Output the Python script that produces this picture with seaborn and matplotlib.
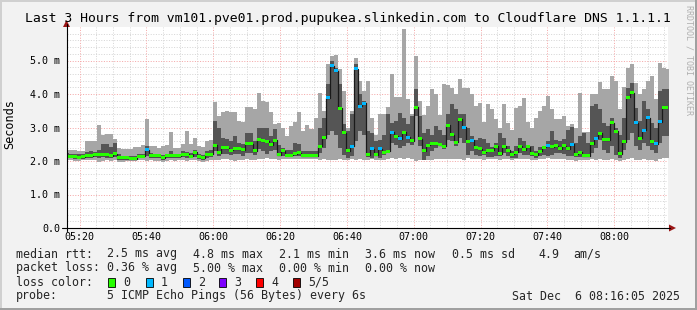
import numpy as np
import matplotlib
matplotlib.use("Agg")
import matplotlib.pyplot as plt
import seaborn as sns
from matplotlib.lines import Line2D
from matplotlib.patches import Polygon, Rectangle

sns.set_style("white")
plt.rcParams['font.family'] = ['DejaVu Sans Mono', 'DejaVu Sans']

# ---------------- data (ms), one value per 72 s consolidation step ----------------
START_MIN = 15.6          # first step starts 05:15:36 (minutes after 05:00)
STEP_MIN = 1.2            # 72 s steps
X_FROM, X_TO = 16.0833, 196.0833   # 05:16:05 .. 08:16:05

MED = [
    2.14, 2.14, 2.14, 2.11, 2.12, 2.16, 2.16, 2.19, 2.19, 2.19,
    2.19, 2.16, 2.22, 2.09, 2.09, 2.09, 2.07, 2.07, 2.14, 2.14,
    2.33, 2.15, 2.15, 2.15, 2.09, 2.15, 2.15, 2.15, 2.15, 2.20,
    2.20, 2.14, 2.26, 2.14, 2.09, 2.20, 2.20, 2.47, 2.24, 2.40,
    2.40, 2.32, 2.37, 2.37, 2.34, 2.52, 2.52, 2.30, 2.65, 2.60,
    2.59, 2.49, 2.62, 2.19, 2.31, 2.17, 2.17, 2.22, 2.25, 2.16,
    2.16, 2.16, 2.16, 2.44, 2.69, 3.89, 4.84, 4.69, 3.57, 2.84,
    2.31, 2.44, 4.76, 3.64, 3.73, 2.19, 2.36, 2.19, 2.36, 2.26,
    2.29, 2.86, 2.74, 2.67, 2.86, 2.71, 2.61, 3.61, 2.67, 2.31,
    2.47, 2.51, 2.51, 2.49, 2.44, 3.07, 2.79, 2.56, 3.24, 3.01,
    2.59, 2.62, 2.39, 2.36, 2.26, 2.32, 2.32, 2.44, 2.21, 2.44,
    2.32, 2.20, 2.26, 2.44, 2.34, 2.42, 2.22, 2.19, 2.29, 2.41,
    2.46, 2.42, 2.46, 2.36, 2.46, 2.36, 2.50, 2.20, 2.26, 2.16,
    2.16, 2.52, 2.68, 2.83, 2.63, 2.63, 3.14, 2.89, 2.22, 2.57,
    3.91, 4.04, 3.14, 2.68, 2.92, 3.29, 2.58, 2.52, 3.17, 3.59,
    3.59]

LOSS = [
    0, 0, 0, 0, 0, 0, 0, 0, 0, 0,
    0, 0, 0, 0, 0, 0, 0, 0, 0, 0,
    1, 0, 0, 0, 0, 0, 0, 0, 0, 0,
    0, 0, 0, 0, 0, 0, 0, 0, 0, 0,
    0, 0, 0, 0, 0, 0, 0, 0, 0, 0,
    0, 0, 0, 0, 0, 0, 0, 0, 0, 0,
    0, 0, 0, 0, 0, 1, 1, 1, 0, 0,
    0, 1, 1, 1, 1, 0, 1, 0, 1, 0,
    0, 1, 0, 1, 0, 1, 0, 0, 0, 0,
    0, 0, 0, 0, 0, 0, 0, 0, 0, 1,
    0, 1, 0, 0, 0, 0, 0, 0, 0, 0,
    0, 0, 0, 0, 0, 0, 0, 0, 0, 0,
    1, 0, 0, 0, 0, 0, 1, 0, 0, 0,
    0, 0, 1, 0, 0, 0, 0, 0, 0, 0,
    0, 0, 1, 0, 1, 1, 0, 1, 1, 0,
    0]

HI = [
    2.34, 2.34, 2.34, 2.30, 2.30, 2.59, 2.59, 2.59, 3.08, 2.79,
    2.80, 2.80, 2.65, 2.40, 2.35, 2.35, 2.35, 2.43, 2.43, 2.47,
    3.24, 2.45, 2.45, 2.40, 2.45, 2.48, 2.88, 2.40, 2.38, 2.50,
    2.90, 2.50, 2.70, 2.46, 2.42, 2.60, 2.62, 3.76, 3.33, 3.45,
    3.50, 3.45, 3.45, 3.20, 3.15, 3.60, 3.62, 3.55, 4.02, 3.80,
    3.76, 3.47, 3.10, 3.13, 2.99, 2.74, 3.05, 3.17, 3.47, 2.89,
    3.07, 2.97, 3.29, 4.02, 3.50, 4.91, 5.14, 5.16, 4.76, 4.09,
    2.99, 3.50, 5.06, 4.39, 4.09, 4.39, 3.27, 2.79, 3.41, 3.41,
    3.60, 4.60, 3.90, 3.90, 5.95, 3.84, 3.40, 5.12, 3.79, 3.37,
    3.64, 4.14, 3.99, 3.37, 4.29, 4.26, 4.19, 3.99, 4.44, 4.19,
    4.19, 3.99, 3.64, 3.74, 3.17, 3.69, 3.54, 3.24, 3.00, 3.69,
    3.14, 2.94, 3.59, 3.64, 3.89, 3.17, 2.99, 3.29, 3.49, 3.64,
    3.94, 3.54, 3.24, 3.24, 3.34, 3.04, 3.10, 3.00, 4.04, 2.86,
    2.86, 3.99, 3.99, 4.36, 4.14, 4.14, 4.54, 4.38, 3.54, 4.20,
    4.79, 4.89, 4.34, 3.99, 4.14, 4.39, 4.54, 3.84, 4.92, 4.79,
    4.74]

LO = [
    2.02, 2.04, 2.00, 2.00, 2.02, 2.04, 2.02, 2.04, 1.98, 2.00,
    2.02, 2.00, 2.02, 1.98, 1.98, 2.00, 1.99, 2.00, 2.02, 2.02,
    2.00, 2.02, 1.99, 2.00, 1.98, 2.00, 2.02, 2.00, 2.02, 2.02,
    2.00, 2.02, 2.04, 2.00, 1.98, 2.00, 2.04, 2.04, 2.02, 2.06,
    2.06, 2.02, 2.00, 2.04, 2.04, 2.06, 2.04, 2.02, 2.06, 2.06,
    2.09, 2.06, 2.06, 2.04, 2.06, 2.07, 2.05, 2.05, 2.06, 2.07,
    2.07, 2.06, 2.07, 2.04, 2.06, 2.04, 2.04, 2.02, 2.06, 2.02,
    2.02, 2.06, 2.04, 2.06, 2.04, 2.04, 2.05, 2.02, 2.04, 2.04,
    2.07, 2.09, 2.07, 2.09, 2.07, 2.09, 2.07, 2.00, 2.02, 2.02,
    2.04, 2.04, 2.07, 2.06, 2.07, 2.06, 2.07, 2.05, 2.06, 2.04,
    2.09, 2.07, 2.05, 2.05, 2.04, 2.06, 2.05, 2.07, 2.04, 2.06,
    2.07, 2.04, 2.07, 2.06, 2.07, 2.06, 2.04, 2.04, 2.06, 2.07,
    2.09, 2.07, 2.06, 2.05, 2.05, 2.02, 2.02, 2.00, 2.02, 2.02,
    2.02, 2.06, 2.04, 2.07, 2.04, 2.04, 2.06, 2.04, 1.99, 2.02,
    2.06, 2.09, 2.02, 2.04, 2.06, 2.04, 2.02, 1.99, 2.06, 2.10,
    2.10]

P4 = [
    2.24, 2.22, 2.20, 2.20, 2.22, 2.26, 2.30, 2.28, 2.34, 2.50,
    2.50, 2.42, 2.54, 2.20, 2.16, 2.16, 2.14, 2.16, 2.20, 2.20,
    2.44, 2.24, 2.20, 2.20, 2.18, 2.22, 2.30, 2.22, 2.22, 2.30,
    2.28, 2.24, 2.34, 2.22, 2.18, 2.30, 2.32, 3.20, 3.00, 2.70,
    2.65, 2.60, 2.75, 2.55, 2.50, 2.85, 2.85, 2.60, 3.00, 3.00,
    3.00, 2.74, 2.97, 2.49, 2.39, 2.34, 2.34, 2.54, 2.51, 2.29,
    2.29, 2.29, 2.29, 2.99, 3.29, 4.29, 4.99, 4.79, 4.29, 3.09,
    2.89, 3.39, 4.89, 3.99, 3.79, 2.90, 2.84, 2.60, 2.64, 2.79,
    3.41, 3.14, 3.19, 3.44, 3.27, 3.09, 3.34, 4.14, 3.34, 2.84,
    2.96, 2.79, 3.04, 2.94, 2.79, 3.39, 3.69, 3.54, 3.39, 3.39,
    2.99, 2.74, 2.64, 2.69, 2.66, 2.54, 2.42, 2.55, 2.85, 2.69,
    2.44, 2.29, 2.44, 2.69, 2.59, 2.49, 2.44, 2.29, 2.42, 2.46,
    2.59, 2.89, 2.64, 2.59, 2.66, 2.94, 3.02, 2.54, 2.74, 2.84,
    2.54, 3.64, 3.69, 3.54, 3.14, 3.04, 3.29, 2.99, 2.79, 3.29,
    4.19, 4.34, 3.59, 3.19, 3.79, 3.54, 3.14, 2.99, 4.09, 4.14,
    4.14]

P2 = [
    2.08, 2.08, 2.06, 2.05, 2.07, 2.10, 2.10, 2.12, 2.10, 2.12,
    2.10, 2.08, 2.12, 2.04, 2.03, 2.04, 2.02, 2.03, 2.08, 2.08,
    2.16, 2.10, 2.08, 2.08, 2.04, 2.08, 2.10, 2.08, 2.10, 2.12,
    2.10, 2.08, 2.12, 2.06, 2.04, 2.10, 2.12, 2.30, 2.15, 2.20,
    2.22, 2.18, 2.20, 2.20, 2.15, 2.25, 2.25, 2.18, 2.35, 2.30,
    2.20, 2.29, 2.34, 2.14, 2.14, 2.14, 2.14, 2.14, 2.16, 2.11,
    2.11, 2.11, 2.11, 2.24, 2.39, 2.79, 2.89, 2.79, 2.39, 2.19,
    2.09, 2.14, 2.59, 2.89, 2.79, 2.12, 2.10, 2.14, 2.10, 2.19,
    2.24, 2.54, 2.49, 2.40, 2.44, 2.54, 2.49, 3.34, 2.44, 2.04,
    2.14, 2.29, 2.39, 2.44, 2.35, 2.64, 2.60, 2.45, 2.69, 2.54,
    2.19, 2.29, 2.19, 2.14, 2.19, 2.12, 2.12, 2.14, 2.14, 2.24,
    2.14, 2.09, 2.09, 2.24, 2.19, 2.19, 2.14, 2.09, 2.14, 2.19,
    2.14, 2.19, 2.24, 2.24, 2.22, 2.14, 2.16, 2.12, 2.12, 2.12,
    2.14, 2.24, 2.39, 2.64, 2.34, 2.24, 2.44, 2.19, 2.09, 2.34,
    2.64, 2.84, 2.44, 2.34, 2.54, 2.44, 2.34, 2.24, 2.54, 2.74,
    2.74]

X_TICKS = [20, 40, 60, 80, 100, 120, 140, 160, 180]
X_TICK_LABELS = ["05:20", "05:40", "06:00", "06:20", "06:40",
                 "07:00", "07:20", "07:40", "08:00"]
Y_TICKS = [0, 1, 2, 3, 4, 5]
Y_TICK_LABELS = ["0.0", "1.0 m", "2.0 m", "3.0 m", "4.0 m", "5.0 m"]

LOSS_LABELS = ["0", "1", "2", "3", "4", "5/5"]
LOSS_COLORS = ["#26ff00", "#00b8ff", "#0059ff", "#7e00ff", "#ff0000", "#a10000"]

TITLE = "Last 3 Hours from vm101.pve01.prod.pupukea.slinkedin.com to Cloudflare DNS 1.1.1.1"
STATS = [
    ("median rtt:", ["2.5 ms avg", "4.8 ms max", "2.1 ms min", "3.6 ms now", "0.5 ms sd", "4.9", "am/s"]),
    ("packet loss:", ["0.36 % avg", "5.00 % max", "0.00 % min", "0.00 % now"]),
]
PROBE = "5 ICMP Echo Pings (56 Bytes) every 6s"
STAMP = "Sat Dec  6 08:16:05 2025"

# ---------------- styling ----------------
W, H = 697, 310
BG = "#f2f2f2"
LIGHT = "#a6a6a6"
DARK = "#555555"
MINOR = "#d6d6d6"
MAJOR = "#f4a8a8"
ARROW = "#9a1515"
DOTS = (0, (1, 1.6))


def fx(p):
    return p / W


def fy(p):
    return 1 - p / H


fig = plt.figure(figsize=(W / 100, H / 100), dpi=100, facecolor=BG)
ax = fig.add_axes([fx(66.5), fy(228), fx(668) - fx(66.5), fy(27) - fy(228)])
ax.set_facecolor("white")

med = np.array(MED)
edges = START_MIN + STEP_MIN * np.arange(len(med) + 1)


def ext(a):
    a = np.asarray(a, dtype=float)
    return np.append(a, a[-1])


# grid (under the smoke)
px_per_ms = 201 / 6.0
for m in np.arange(20, 196, 5):
    if m % 20:
        ax.axvline(m, color=MINOR, lw=0.72, ls=DOTS, zorder=0.5)
for v in np.arange(0.2, 6.0, 0.2):
    if abs(v - round(v)) > 1e-6:
        ax.axhline(v, color=MINOR, lw=0.72, ls=DOTS, zorder=0.5)
for m in X_TICKS:
    ax.axvline(m, color=MAJOR, lw=0.72, ls=DOTS, zorder=0.6)
for v in Y_TICKS[1:]:
    ax.axhline(v, color=MAJOR, lw=0.72, ls=DOTS, zorder=0.6)

ax.fill_between(edges, ext(LO), ext(HI), step="post", color=LIGHT, lw=0, zorder=1)
ax.fill_between(edges, ext(P2), ext(P4), step="post", color=DARK, lw=0, zorder=2)

# median: thin dark step line plus loss-coloured bars
sns.lineplot(x=edges, y=ext(med), drawstyle="steps-post", color="#1a1a1a",
             linewidth=0.9, ax=ax, zorder=4, estimator=None, sort=False)
bar_h = 3.0 / px_per_ms
ax.bar(edges[:-1], bar_h, bottom=med - bar_h / 2, width=STEP_MIN, align="edge",
       color=[LOSS_COLORS[i] for i in LOSS], linewidth=0, zorder=5)

ax.set_xlim(X_FROM, X_TO)
ax.set_ylim(0, 6)
ax.set_xticks(X_TICKS)
ax.set_xticklabels(X_TICK_LABELS)
ax.set_xticks(np.arange(20, 196, 5), minor=True)
ax.set_yticks(Y_TICKS)
ax.set_yticklabels(Y_TICK_LABELS)
ax.set_yticks(np.arange(0, 6.0, 0.2), minor=True)
for s in ax.spines.values():
    s.set_visible(False)
ax.tick_params(which="major", direction="inout", length=3, width=0.7, color="#333333",
               labelsize=7.2, labelcolor="#000000")
ax.tick_params(which="minor", direction="inout", length=2, width=0.6, color="#555555")
ax.tick_params(axis="x", which="major", pad=1.2)
ax.tick_params(axis="y", which="major", pad=3.2)
ax.grid(False)

# axes with arrows
fig.add_artist(Line2D([fx(66.5), fx(66.5)], [fy(231), fy(24)], color="#000000", lw=0.8))
fig.add_artist(Line2D([fx(62), fx(670)], [fy(228), fy(228)], color="#000000", lw=0.8))
fig.add_artist(Polygon([[fx(63), fy(27)], [fx(70), fy(27)], [fx(66.5), fy(20)]],
                       closed=True, color=ARROW, lw=0))
fig.add_artist(Polygon([[fx(669), fy(224.5)], [fx(669), fy(231.5)], [fx(676), fy(228)]],
                       closed=True, color=ARROW, lw=0))

# texts
fig.text(fx(348), fy(18.5), TITLE, ha="center", va="center", fontsize=9.45, color="#000000")
fig.text(fx(10), fy(124), "Seconds", rotation=90, ha="center", va="center",
         fontsize=8.6, color="#000000")
fig.text(fx(689), fy(60), "RRDTOOL / TOBI OETIKER", rotation=270, ha="center",
         va="center", fontsize=6.0, color="#b0b0b0")

LEG_FS = 8.4
cols = [107, 193, 279, 365, 452, 538, 573]
rows_y = [254, 268, 282, 296]
for (label, items), yy in zip(STATS, rows_y[:2]):
    fig.text(fx(16), fy(yy), label, ha="left", va="center", fontsize=LEG_FS)
    for item, xx in zip(items, cols):
        fig.text(fx(xx), fy(yy), item, ha="left", va="center", fontsize=LEG_FS)

fig.text(fx(16), fy(rows_y[2]), "loss color:", ha="left", va="center", fontsize=LEG_FS)
box_x = [108.3, 145.7, 182.7, 219.3, 256.0, 293.3]
for bx, lab, col in zip(box_x, LOSS_LABELS, LOSS_COLORS):
    fig.add_artist(Rectangle((fx(bx), fy(rows_y[2] + 4.5)), 7 / W, 8.5 / H,
                             facecolor=col, edgecolor="#000000", lw=0.6))
    fig.text(fx(bx + 15), fy(rows_y[2]), lab, ha="left", va="center", fontsize=LEG_FS)

fig.text(fx(16), fy(rows_y[3]), "probe:", ha="left", va="center", fontsize=LEG_FS)
fig.text(fx(107), fy(rows_y[3]), PROBE, ha="left", va="center", fontsize=LEG_FS)
fig.text(fx(680), fy(rows_y[3]), STAMP, ha="right", va="center", fontsize=LEG_FS)

# 3D-ish frame
fig.add_artist(Rectangle((0, fy(2)), 1, 2 / H, facecolor="#d0d0d0", lw=0))
fig.add_artist(Rectangle((0, 0), 2 / W, 1, facecolor="#d0d0d0", lw=0))
fig.add_artist(Rectangle((0, 0), 1, 2 / H, facecolor="#a0a0a0", lw=0))
fig.add_artist(Rectangle((fx(695), 0), 2 / W, 1, facecolor="#a0a0a0", lw=0))

fig.savefig("out.png", dpi=100, facecolor=BG)
